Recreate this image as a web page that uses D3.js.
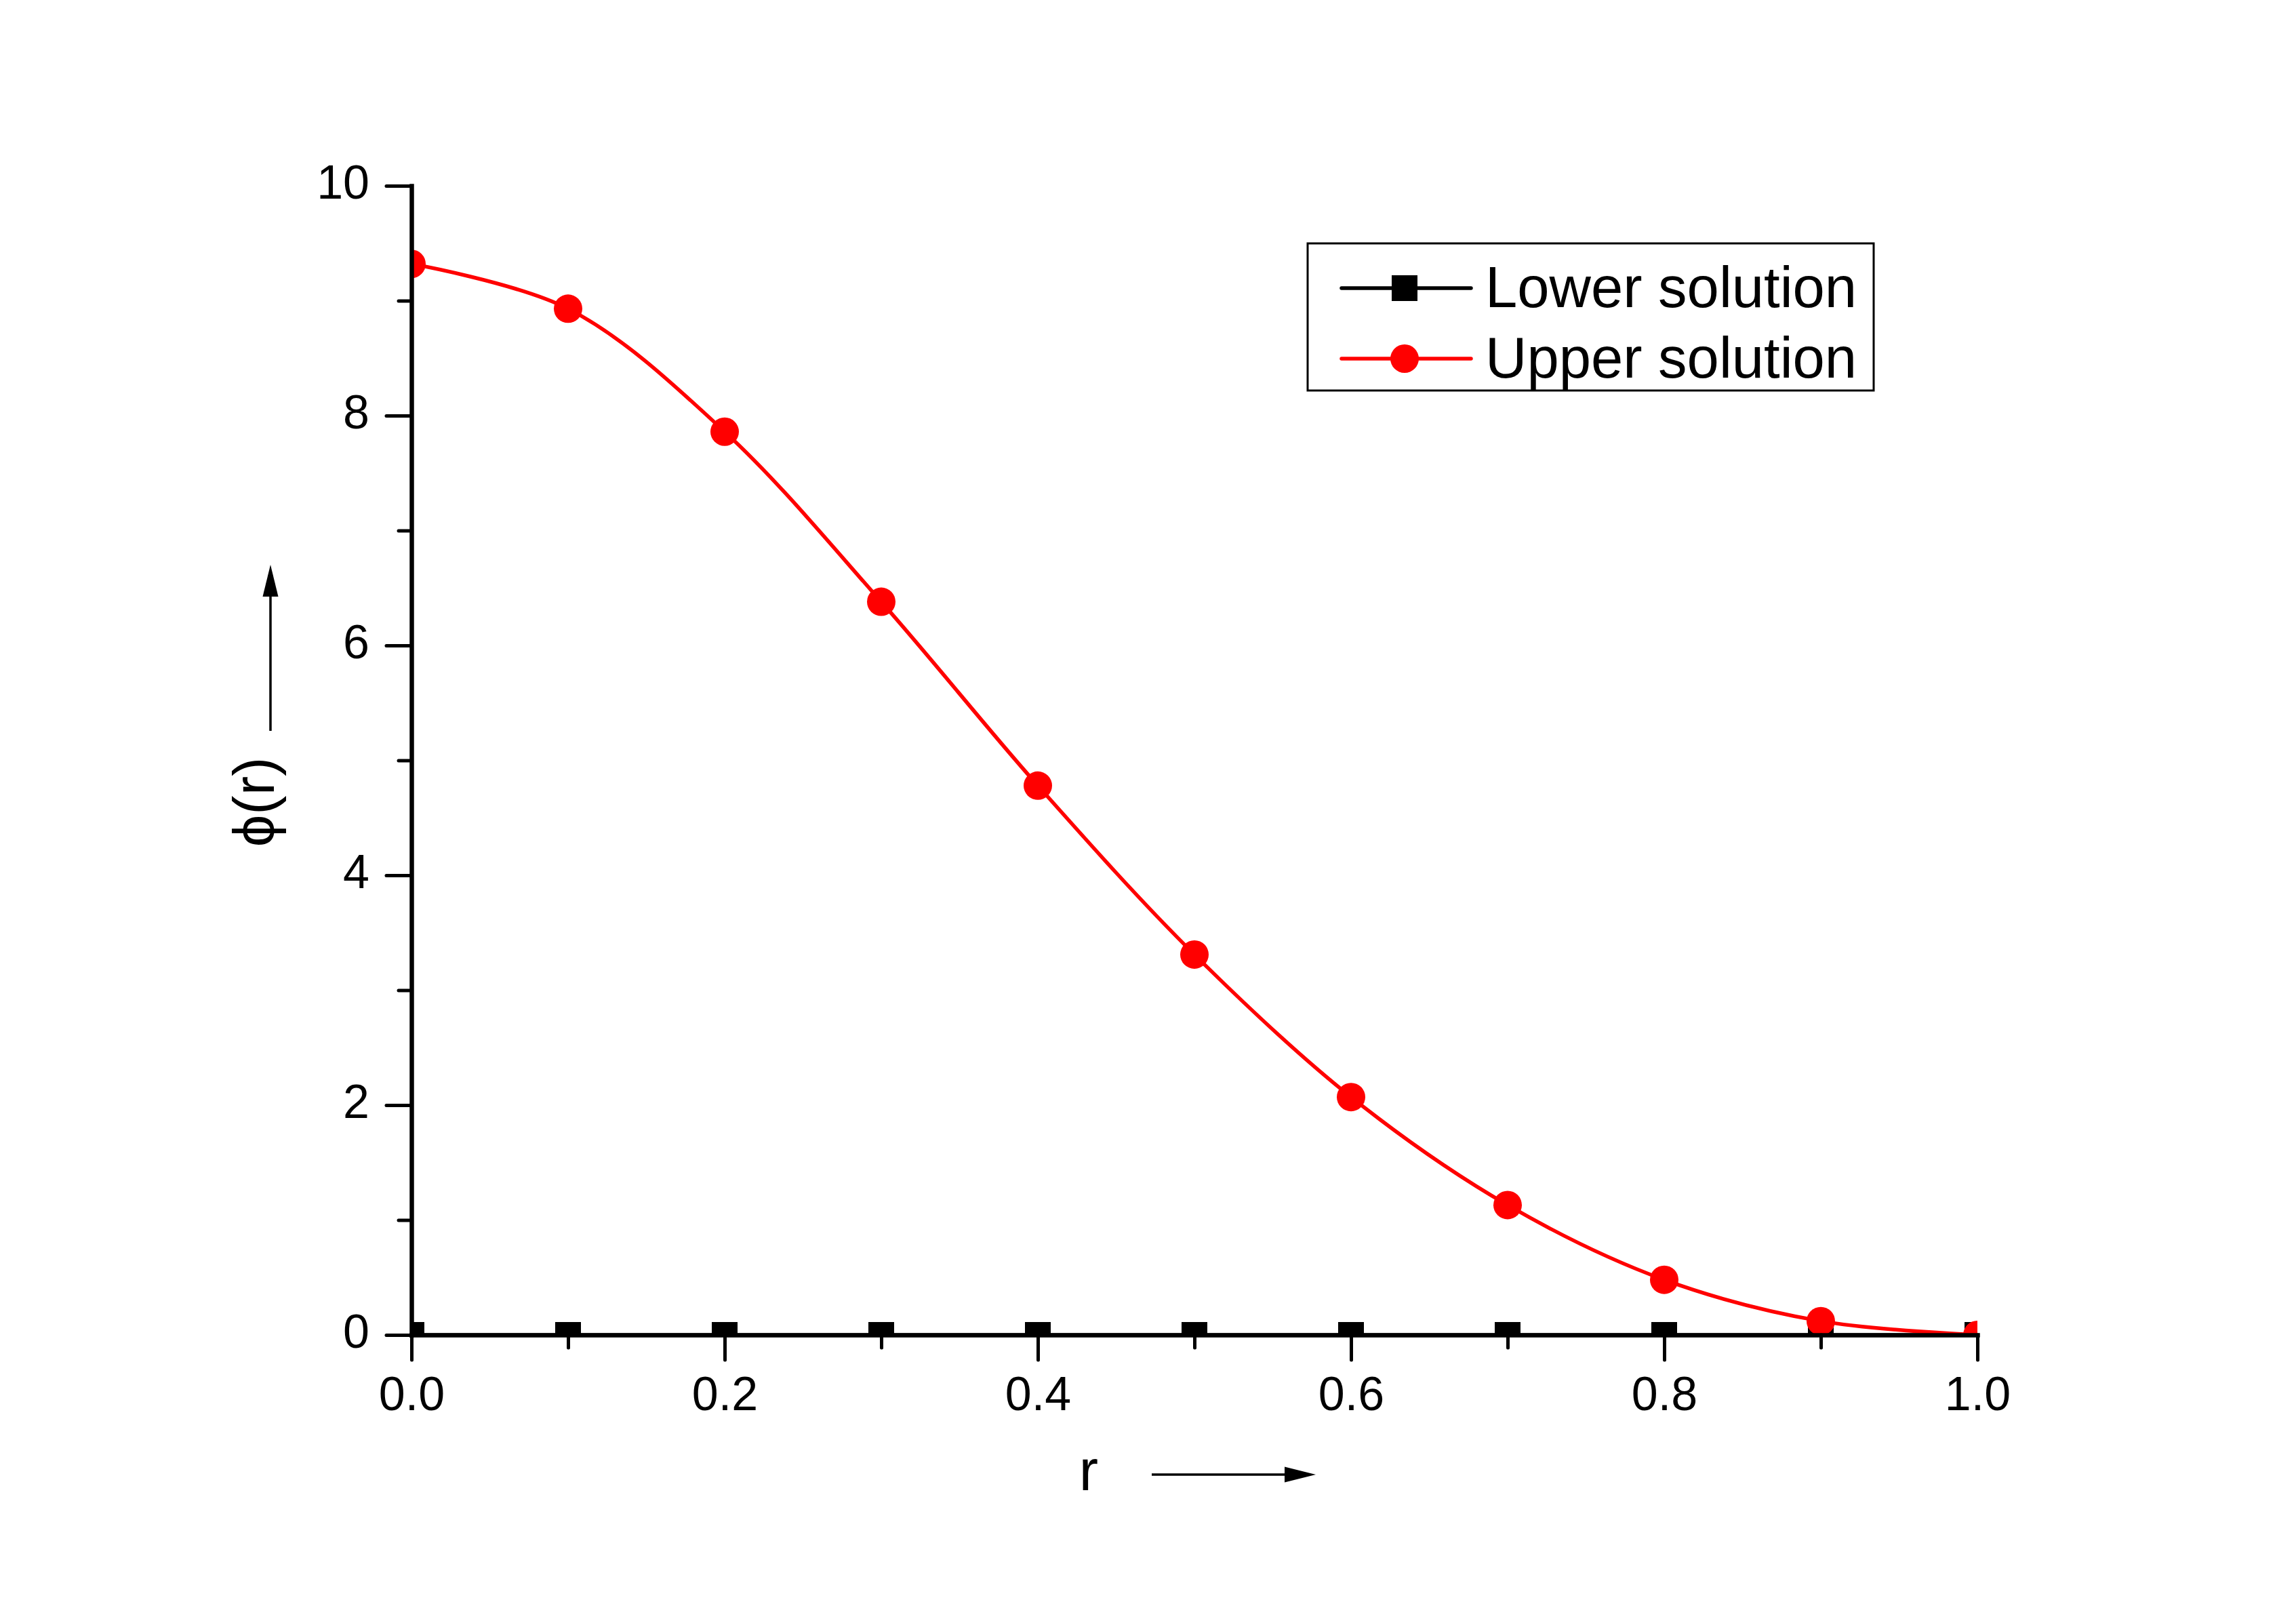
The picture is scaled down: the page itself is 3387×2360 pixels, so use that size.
<!DOCTYPE html>
<html>
<head>
<meta charset="utf-8">
<script src="https://cdn.jsdelivr.net/npm/d3@7"></script>
<style>
  body { margin: 0; background: #fff; }
  svg { display: block; }
</style>
</head>
<body>
<svg id="chart"></svg>
<script>
// data
const rValues = [0.0, 0.1, 0.2, 0.3, 0.4, 0.5, 0.6, 0.7, 0.8, 0.9, 1.0];
const lowerSolution = [0, 0, 0, 0, 0, 0, 0, 0, 0, 0, 0];
const upperSolution = [9.32, 8.93, 7.86, 6.38, 4.78, 3.31, 2.07, 1.13, 0.48, 0.12, 0.0];
const seriesNames = ["Lower solution", "Upper solution"];
const xMajorTicks = [0.0, 0.2, 0.4, 0.6, 0.8, 1.0];
const xMinorTicks = [0.1, 0.3, 0.5, 0.7, 0.9];
const yMajorTicks = [0, 2, 4, 6, 8, 10];
const yMinorTicks = [1, 3, 5, 7, 9];

const width = 3387;
const height = 2360;
const font = "'Liberation Sans', Arial, sans-serif";

const svg = d3.select("#chart")
  .attr("width", width)
  .attr("height", height);

svg.append("rect").attr("width", width).attr("height", height).attr("fill", "#fff");

// plot frame
const margin = { top: 274, right: 470, bottom: 391, left: 607 };

const x = d3.scaleLinear().domain([0, 1]).range([margin.left, width - margin.right]);
const y = d3.scaleLinear().domain([0, 10]).range([height - margin.bottom, margin.top]);

svg.append("clipPath")
  .attr("id", "plot-clip")
  .append("rect")
  .attr("x", x(0))
  .attr("y", y(10))
  .attr("width", x(1) - x(0))
  .attr("height", y(0) - y(10));

const plot = svg.append("g").attr("clip-path", "url(#plot-clip)");

const lower = rValues.map((r, i) => ({ r, v: lowerSolution[i] }));
const upper = rValues.map((r, i) => ({ r, v: upperSolution[i] }));

// lower solution (black squares)
plot.append("path")
  .datum(lower)
  .attr("fill", "none")
  .attr("stroke", "#000")
  .attr("stroke-width", 5)
  .attr("d", d3.line().x(d => x(d.r)).y(d => y(d.v)));

const sq = 38;
plot.append("g")
  .selectAll("rect")
  .data(lower)
  .join("rect")
  .attr("x", d => x(d.r) - sq / 2)
  .attr("y", d => y(d.v) - sq / 2)
  .attr("width", sq)
  .attr("height", sq)
  .attr("fill", "#000");

// upper solution (red circles)
plot.append("path")
  .datum(upper)
  .attr("fill", "none")
  .attr("stroke", "#ff0000")
  .attr("stroke-width", 5.5)
  .attr("d", d3.line().curve(d3.curveCatmullRom.alpha(0.5)).x(d => x(d.r)).y(d => y(d.v)));

plot.append("g")
  .selectAll("circle")
  .data(upper)
  .join("circle")
  .attr("cx", d => x(d.r))
  .attr("cy", d => y(d.v))
  .attr("r", 21)
  .attr("fill", "#ff0000");

// axes
function styleAxis(g) {
  g.select(".domain").attr("stroke", "#000").attr("stroke-width", 6.5).attr("stroke-linecap", "square");
  g.selectAll(".tick line").attr("stroke", "#000").attr("stroke-width", 5).attr("stroke-linecap", "round");
  g.selectAll(".tick text")
    .attr("fill", "#000")
    .style("font-family", font)
    .style("font-size", "70px");
}

const xMinor = svg.append("g")
  .attr("transform", `translate(0,${y(0)})`)
  .call(d3.axisBottom(x).tickValues(xMinorTicks).tickSize(19).tickSizeOuter(0).tickFormat(""));
xMinor.select(".domain").remove();
xMinor.selectAll(".tick line").attr("stroke", "#000").attr("stroke-width", 5).attr("stroke-linecap", "round");

const yMinor = svg.append("g")
  .attr("transform", `translate(${x(0)},0)`)
  .call(d3.axisLeft(y).tickValues(yMinorTicks).tickSize(19).tickSizeOuter(0).tickFormat(""));
yMinor.select(".domain").remove();
yMinor.selectAll(".tick line").attr("stroke", "#000").attr("stroke-width", 5).attr("stroke-linecap", "round");

const xAxis = svg.append("g")
  .attr("transform", `translate(0,${y(0)})`)
  .call(d3.axisBottom(x).tickValues(xMajorTicks).tickSize(37).tickSizeOuter(0).tickPadding(24)
    .tickFormat(d3.format(".1f")));
styleAxis(xAxis);
xAxis.selectAll(".tick text").attr("dy", "0.71em");

const yAxis = svg.append("g")
  .attr("transform", `translate(${x(0)},0)`)
  .call(d3.axisLeft(y).tickValues(yMajorTicks).tickSize(37).tickSizeOuter(0).tickPadding(25)
    .tickFormat(d3.format("d")));
styleAxis(yAxis);
yAxis.selectAll(".tick text").attr("dy", "0.27em");

// axis titles with arrows
svg.append("text")
  .attr("transform", `translate(404,1183) rotate(-90)`)
  .attr("text-anchor", "middle")
  .style("font-family", font)
  .style("font-size", "85px")
  .text("ϕ(r)");

svg.append("line")
  .attr("x1", 399).attr("y1", 1078)
  .attr("x2", 399).attr("y2", 872)
  .attr("stroke", "#000").attr("stroke-width", 3.5);
svg.append("path")
  .attr("d", "M399,833 L387.5,880 L410.5,880 Z")
  .attr("fill", "#000");

svg.append("text")
  .attr("x", 1606)
  .attr("y", 2198)
  .attr("text-anchor", "middle")
  .style("font-family", font)
  .style("font-size", "85px")
  .text("r");

svg.append("line")
  .attr("x1", 1699).attr("y1", 2175)
  .attr("x2", 1900).attr("y2", 2175)
  .attr("stroke", "#000").attr("stroke-width", 3.5);
svg.append("path")
  .attr("d", "M1941,2175 L1895,2163.5 L1895,2186.5 Z")
  .attr("fill", "#000");

// legend
const legend = svg.append("g").attr("transform", "translate(1929,359)");
legend.append("rect")
  .attr("width", 835)
  .attr("height", 217)
  .attr("fill", "#fff")
  .attr("stroke", "#000")
  .attr("stroke-width", 3);

const legendColors = ["#000", "#ff0000"];
const rows = legend.selectAll(".row")
  .data(seriesNames)
  .join("g")
  .attr("class", "row")
  .attr("transform", (d, i) => `translate(0,${66 + i * 104})`);

rows.append("line")
  .attr("x1", 50).attr("x2", 241)
  .attr("stroke", (d, i) => legendColors[i])
  .attr("stroke-width", 5.5)
  .attr("stroke-linecap", "round");

rows.filter((d, i) => i === 0).append("rect")
  .attr("x", 143 - 19).attr("y", -19)
  .attr("width", 38).attr("height", 38)
  .attr("fill", "#000");

rows.filter((d, i) => i === 1).append("circle")
  .attr("cx", 143).attr("cy", 0)
  .attr("r", 21)
  .attr("fill", "#ff0000");

rows.append("text")
  .attr("x", 262)
  .attr("y", 28)
  .style("font-family", font)
  .style("font-size", "85px")
  .attr("fill", "#000")
  .text(d => d);
</script>
</body>
</html>
